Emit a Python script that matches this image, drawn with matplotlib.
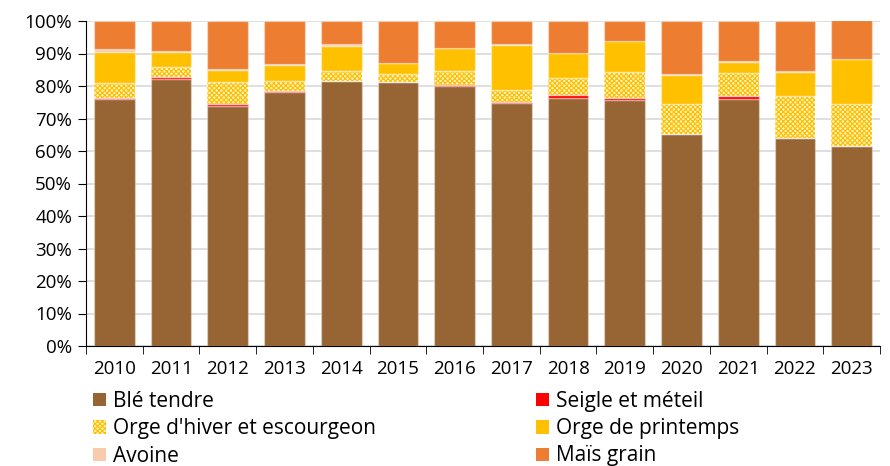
import matplotlib.pyplot as plt
import numpy as np
from matplotlib.patches import Patch

plt.rcParams['font.family'] = ['Open Sans', 'DejaVu Sans']
plt.rcParams['hatch.linewidth'] = 0.9

years = [str(y) for y in range(2010, 2024)]

# shares in % of each crop
ble_tendre = [76.0, 82.2, 73.8, 78.3, 81.4, 81.1, 80.1, 74.9, 76.3, 75.6, 65.1, 76.0, 63.9, 61.4]
seigle = [0.3, 0.5, 0.6, 0.1, 0.1, 0.1, 0.1, 0.1, 0.9, 0.8, 0.1, 0.9, 0.1, 0.1]
orge_hiver = [4.7, 3.0, 6.8, 3.0, 3.1, 2.4, 4.3, 3.9, 5.4, 8.0, 9.3, 7.0, 12.9, 13.0]
orge_printemps = [9.4, 4.7, 3.6, 5.0, 7.6, 3.4, 7.1, 13.8, 7.6, 9.3, 9.0, 3.6, 7.5, 13.8]
avoine = [0.9, 0.5, 0.3, 0.5, 0.6, 0.1, 0.1, 0.1, 0.1, 0.1, 0.1, 0.1, 0.1, 0.1]
mais_grain = [8.7, 9.1, 14.9, 13.1, 7.2, 12.9, 8.4, 7.3, 9.7, 6.2, 16.4, 12.4, 15.5, 11.8]

labels = ["Blé tendre", "Seigle et méteil", "Orge d'hiver et escourgeon",
          "Orge de printemps", "Avoine", "Maïs grain"]
colors = ['#976533', '#FF0000', '#FFC000', '#FFC000', '#F8CBAD', '#ED7D31']

series = [ble_tendre, seigle, orge_hiver, orge_printemps, avoine, mais_grain]

fig = plt.figure(figsize=(8.9, 4.66), dpi=100)
ax = fig.add_axes([86 / 890, 1 - 346 / 466, (880 - 86) / 890, (346 - 21) / 466])

x = np.arange(len(years))
bottom = np.zeros(len(years))
handles = []
for i, (vals, lab, col) in enumerate(zip(series, labels, colors)):
    vals = np.array(vals)
    if i == 2:
        # dotted pattern for winter barley
        ax.bar(x, vals, 0.72, bottom=bottom, color='#FFF6D6', edgecolor=col,
               hatch='xxxxxxx', linewidth=0, zorder=2)
        ax.bar(x, vals, 0.72, bottom=bottom, facecolor='none',
               edgecolor=(1, 1, 1, 0.35), linewidth=1, zorder=3)
        handles.append(Patch(facecolor='#FFF6D6', edgecolor=col, hatch='xxxxxxx', linewidth=0))
    else:
        ax.bar(x, vals, 0.72, bottom=bottom, color=col,
               edgecolor=(1, 1, 1, 0.35), linewidth=1, zorder=2)
        handles.append(Patch(facecolor=col, edgecolor='none'))
    bottom += vals

ax.set_xlim(-0.5, len(years) - 0.5)
ax.set_ylim(0, 100)
ax.set_yticks(np.arange(0, 101, 10))
ax.set_yticklabels([f"{v}%" for v in range(0, 101, 10)], fontsize=13.5)
ax.yaxis.grid(True, color='#d9d9d9', linewidth=1.2, zorder=0)
ax.set_axisbelow(True)

ax.set_xticks(x)
ax.set_xticklabels(years, fontsize=13.5)
ax.tick_params(axis='x', which='major', length=0, pad=10)
ax.set_xticks(np.arange(-0.5, len(years)), minor=True)
ax.tick_params(axis='x', which='minor', length=6, color='black', direction='out')
ax.tick_params(axis='y', length=6, color='black', pad=4)

for s in ['top', 'right']:
    ax.spines[s].set_visible(False)
ax.spines['left'].set_color('black')
ax.spines['bottom'].set_color('black')

order = [0, 2, 4, 1, 3, 5]
fig.legend([handles[i] for i in order], [labels[i] for i in order],
           ncol=2, loc='upper left', bbox_to_anchor=(93 / 890, 1 - 391 / 466),
           frameon=False, fontsize=15, handlelength=0.6, handleheight=0.6,
           handletextpad=0.35, labelspacing=0.3, columnspacing=7.7,
           borderaxespad=0, borderpad=0)

fig.savefig('out.png', dpi=100)
